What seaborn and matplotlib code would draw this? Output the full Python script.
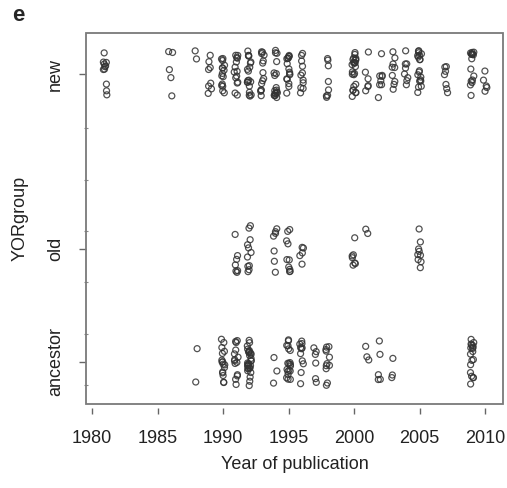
import numpy as np
import pandas as pd
import matplotlib
matplotlib.use("Agg")
import matplotlib.pyplot as plt
import seaborn as sns
from matplotlib.patches import Rectangle

# ---- data ----
group_names = ["ancestor", "old", "new"]
group_positions = [0.45, 2.65, 6.06]

new_years = [1981, 1986, 1988, 1989, 1990, 1991, 1992, 1993, 1994, 1995, 1996,
             1998, 2000, 2001, 2002, 2003, 2004, 2005, 2007, 2009, 2010]
new_counts = [11, 5, 2, 8, 15, 14, 19, 14, 18, 16, 11,
              8, 24, 6, 8, 9, 8, 19, 7, 16, 5]

old_years = [1991, 1992, 1994, 1995, 1996, 2000, 2001, 2005]
old_counts = [7, 11, 7, 10, 5, 7, 2, 9]

ancestor_years = [1988, 1990, 1991, 1992, 1994, 1995, 1996, 1997, 1998,
                  2001, 2002, 2003, 2009]
ancestor_counts = [2, 16, 14, 30, 3, 19, 11, 6, 11, 3, 5, 3, 18]

x_ticks = [1980, 1985, 1990, 1995, 2000, 2005, 2010]
minor_y = [0, 1, 2, 3, 4, 5]

# ---- build table ----
rows = []
for name, pos, yrs, cnts in zip(group_names, group_positions,
                                [ancestor_years, old_years, new_years],
                                [ancestor_counts, old_counts, new_counts]):
    for yr, c in zip(yrs, cnts):
        rows += [(yr, pos, name)] * c
df = pd.DataFrame(rows, columns=["year", "pos", "group"])

sns.set_theme(style="white")
plt.rcParams["font.family"] = ["Liberation Sans", "DejaVu Sans"]

fig = plt.figure(figsize=(5.07, 4.88), dpi=100)
ax = fig.add_axes([86 / 507, 84 / 488, 417 / 507, 371 / 488])

np.random.seed(7)
sns.stripplot(data=df, x="year", y="pos", orient="y", native_scale=True,
              jitter=0.21, size=4.3, facecolors="none", edgecolor="#333333",
              linewidth=0.9, alpha=0.85, ax=ax)

# small horizontal jitter, like R's jitter() on the year axis
for coll in ax.collections:
    off = coll.get_offsets()
    if len(off):
        off = np.asarray(off).copy()
        off[:, 0] = off[:, 0] + np.random.uniform(-0.15, 0.15, len(off))
        coll.set_offsets(off)

ax.set_xlim(1979.54, 2011.37)
ax.set_ylim(-0.37, 6.86)

for s in ax.spines.values():
    s.set_visible(False)
ax.spines["bottom"].set_position(("outward", 3))
ax.add_patch(Rectangle((0, 0), 1, 1, transform=ax.transAxes, fill=False,
                       ec="#7a7a7a", lw=1.3, clip_on=False, zorder=5))

ax.set_xticks(x_ticks)
ax.set_xticklabels([str(t) for t in x_ticks])
ax.set_yticks(group_positions)
ax.set_yticklabels(group_names, rotation=90, va="center")
ax.set_yticks(minor_y, minor=True)

ax.tick_params(axis="x", which="major", bottom=True, direction="out",
               length=4.5, width=1, color="#666666", pad=11,
               labelsize=13, labelcolor="#222222")
ax.tick_params(axis="y", which="major", left=True, direction="out",
               length=5, width=1, color="#666666", pad=11,
               labelsize=13, labelcolor="#222222")
ax.tick_params(axis="y", which="minor", left=True, direction="inout",
               length=3, width=0.8, color="#888888")

ax.set_xlabel("Year of publication", fontsize=13, color="#222222", labelpad=7)
ax.set_ylabel("YORgroup", fontsize=13, color="#222222", labelpad=13)
ax.grid(False)

fig.text(0.024, 0.99, "e", fontsize=16, fontweight="bold", va="top", ha="left")

fig.savefig("out.png", dpi=100)
